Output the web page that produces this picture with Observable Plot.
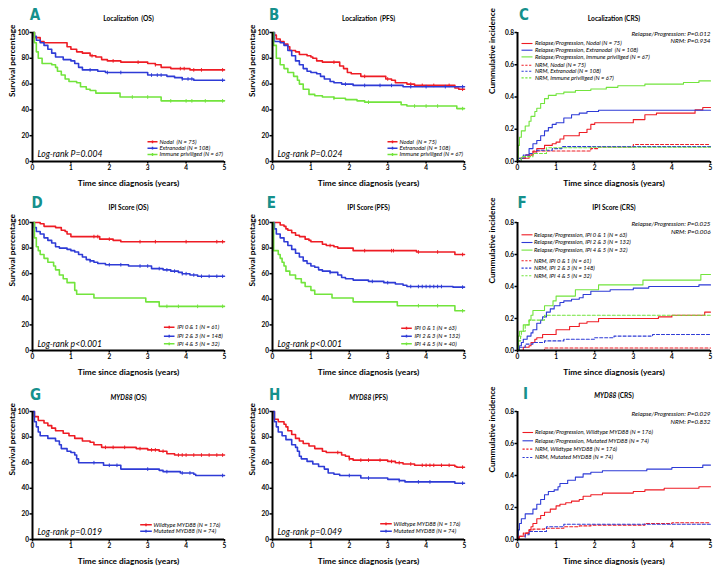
<!DOCTYPE html>
<html><head><meta charset="utf-8">
<script src="https://cdn.jsdelivr.net/npm/d3@7"></script>
<script src="https://cdn.jsdelivr.net/npm/@observablehq/plot@0.6"></script>
<style>
body{margin:0;background:#fff;}
#wrap{position:relative;width:721px;height:571px;overflow:hidden;background:#fff;}
.panel{position:absolute;}
.panel svg{overflow:visible;}
</style></head><body><div id="wrap"></div>
<script>
// ---------- tick values & labels ----------
const xTicks = [0, 1, 2, 3, 4, 5];
const xTickLabels = ["0", "1", "2", "3", "4", "5"];
const yTicksKM = [0, 20, 40, 60, 80, 100];
const yTickLabelsKM = ["0", "20", "40", "60", "80", "100"];
const yTicksCRS = [0, 0.2, 0.4, 0.6, 0.8];
const yTickLabelsCRS = ["0.0", "0.2", "0.4", "0.6", "0.8"];

// ---------- A: Localization (OS) [years, %] ----------
const osLocNodal = [[0,100],[0.05,96],[0.2,93],[0.3,92],[0.9,89],[1.0,87],[1.15,85],[1.3,84],[1.5,82],[1.65,81],[1.8,79],[1.95,78],[2.3,77],[3.0,76],[3.2,75],[3.35,73],[3.6,72],[4.1,71]];
const osLocExtra = [[0,100],[0.05,97],[0.1,94],[0.2,92],[0.3,90],[0.4,87],[0.5,84],[0.6,81],[0.8,79],[1.0,78],[1.1,76],[1.2,73],[1.3,71],[1.7,70],[1.9,69],[3.0,67],[3.5,66],[3.7,65],[3.9,64],[4.2,63]];
const osLocImmune = [[0,100],[0.05,92],[0.1,85],[0.15,80],[0.25,76],[0.5,75],[0.6,73],[0.65,70],[0.75,67],[0.85,64],[0.95,62],[1.15,61],[1.25,58],[1.4,56],[1.5,55],[1.65,53],[2.28,50],[3.35,47]];
const cenOsLocNodal = [1.55, 2.1, 2.75, 3.2, 3.85, 3.95, 4.2, 4.4, 4.95];
const cenOsLocExtra = [1.5, 1.95, 2.3, 3.1, 3.25, 3.35, 3.9, 4.05, 4.15, 4.95];
const cenOsLocImmune = [2.6, 3.0, 3.6, 4.0, 4.15, 4.5, 4.95];
// ---------- B: Localization (PFS) ----------
const pfsLocNodal = [[0,100],[0.05,98],[0.1,95],[0.2,93],[0.3,91],[0.4,89],[0.45,86],[0.6,85],[0.7,83],[0.9,82],[1.0,81],[1.05,80],[1.15,78],[1.3,77],[1.75,74],[1.85,72],[1.95,69],[2.05,68],[2.3,66],[2.95,64],[3.1,63],[3.2,61],[3.5,60],[3.7,59],[4.75,57],[4.85,56]];
const pfsLocExtra = [[0,100],[0.05,93],[0.2,92],[0.3,90],[0.4,86],[0.5,82],[0.6,78],[0.7,75],[0.8,72],[0.9,70],[1.0,69],[1.15,68],[1.25,66],[1.35,64],[1.5,62],[1.6,61],[1.8,60],[2.1,59],[3.4,58]];
const pfsLocImmune = [[0,100],[0.03,90],[0.1,80],[0.2,75],[0.3,72],[0.4,69],[0.55,66],[0.65,63],[0.7,60],[0.8,56],[0.95,52],[1.1,51],[1.3,50],[1.6,49],[1.9,48],[2.2,47],[2.4,46],[3.35,44],[3.5,43],[4.8,41]];
const cenPfsLocNodal = [1.6, 2.4, 3.0, 3.6, 3.9, 4.2, 4.6, 4.95];
const cenPfsLocExtra = [1.9, 2.4, 2.8, 3.1, 3.6, 4.0, 4.5, 4.95];
const cenPfsLocImmune = [1.6, 2.5, 3.7, 4.0, 4.3, 4.95];
// ---------- C: Localization (CRS) [years, fraction] ----------
const crsLocRelNodal = [[0,0],[0.1,0.02],[0.3,0.04],[0.4,0.06],[0.5,0.08],[0.7,0.10],[0.9,0.11],[1.0,0.12],[1.1,0.14],[1.2,0.16],[1.6,0.18],[1.8,0.20],[1.9,0.23],[2.0,0.24],[3.0,0.26],[3.3,0.29],[3.6,0.30],[4.6,0.32],[4.8,0.335]];
const crsLocRelExtra = [[0,0],[0.1,0.02],[0.2,0.04],[0.3,0.08],[0.4,0.11],[0.5,0.13],[0.6,0.16],[0.7,0.19],[0.8,0.21],[0.9,0.23],[1.0,0.24],[1.2,0.27],[1.4,0.29],[1.6,0.30],[1.8,0.31],[2.1,0.318]];
const crsLocRelImmune = [[0,0],[0.02,0.10],[0.05,0.15],[0.1,0.19],[0.2,0.22],[0.3,0.25],[0.35,0.28],[0.45,0.31],[0.5,0.33],[0.6,0.36],[0.7,0.39],[0.8,0.41],[1.0,0.42],[1.2,0.43],[1.5,0.44],[1.9,0.45],[2.3,0.46],[2.6,0.47],[3.3,0.48],[4.3,0.49],[4.7,0.50]];
const crsLocNrmNodal = [[0,0],[0.05,0.02],[0.2,0.04],[0.4,0.065],[1.9,0.08],[2.1,0.09],[3.0,0.105]];
const crsLocNrmExtra = [[0,0],[0.05,0.02],[0.15,0.04],[0.3,0.05],[0.5,0.07],[0.9,0.08],[1.15,0.092]];
const crsLocNrmImmune = [[0,0],[0.1,0.03],[0.4,0.05],[0.75,0.085],[1.9,0.088]];
// ---------- D: IPI (OS) ----------
const osIpi01 = [[0,100],[0.2,99],[0.3,97],[0.6,96],[0.75,94],[0.85,93],[0.9,91],[1.0,89],[1.75,87],[2.1,86],[2.3,85]];
const osIpi23 = [[0,100],[0.05,96],[0.1,93],[0.2,91],[0.3,88],[0.4,86],[0.5,84],[0.6,81],[0.7,80],[0.9,79],[1.0,78],[1.1,77],[1.2,75],[1.3,73],[1.4,71],[1.5,70],[1.6,69],[1.7,68],[1.9,67],[2.5,66],[3.1,64],[3.4,63],[3.6,62],[3.8,61],[3.9,60],[4.1,59],[4.3,58]];
const osIpi45 = [[0,100],[0.05,88],[0.1,81],[0.15,78],[0.2,75],[0.3,72],[0.4,69],[0.55,66],[0.6,63],[0.7,59],[0.8,56],[0.9,53],[1.1,47],[1.15,44],[1.6,41],[2.95,38],[3.3,34.5]];
const cenOsIpi01 = [1.6, 1.7, 2.0, 2.8, 3.2, 4.0, 4.8, 4.95];
const cenOsIpi23 = [1.5, 2.0, 2.3, 2.8, 3.0, 3.3, 3.5, 3.7, 3.9, 4.0, 4.2, 4.4, 4.6, 4.8, 4.95];
const cenOsIpi45 = [3.5, 3.8, 4.3, 4.95];
// ---------- E: IPI (PFS) ----------
const pfsIpi01 = [[0,100],[0.2,98],[0.3,97],[0.35,95],[0.4,94],[0.5,92],[0.6,90],[0.7,89],[0.85,87],[0.95,86],[1.0,85],[1.3,83],[1.4,82],[1.6,81],[1.7,80],[2.1,78],[3.75,77],[4.75,75]];
const pfsIpi23 = [[0,100],[0.05,95],[0.1,91],[0.2,88],[0.3,85],[0.4,82],[0.5,79],[0.6,76],[0.7,73],[0.8,70],[0.9,68],[1.0,66],[1.1,65],[1.2,63],[1.3,62],[1.5,61],[1.7,59],[1.8,57],[1.9,56],[2.1,55],[2.5,54],[2.9,53],[3.2,52],[3.4,51],[3.5,50],[4.7,49.5]];
const pfsIpi45 = [[0,100],[0.03,78],[0.15,75],[0.2,72],[0.25,69],[0.3,66],[0.35,62],[0.45,59],[0.6,56],[0.75,53],[0.85,50],[1.0,47],[1.1,44],[1.55,41],[2.1,38],[3.25,35],[4.75,31]];
const cenPfsIpi01 = [1.5, 2.4, 3.1, 3.15, 3.8, 4.3, 4.95];
const cenPfsIpi23 = [1.5, 2.6, 3.0, 3.6, 3.8, 3.9, 4.0, 4.1, 4.2, 4.3, 4.4, 4.95];
const cenPfsIpi45 = [3.8, 4.3, 4.95];
// ---------- F: IPI (CRS) ----------
const crsIpiRel01 = [[0,0],[0.15,0.02],[0.3,0.03],[0.35,0.05],[0.45,0.07],[0.5,0.08],[0.65,0.10],[1.0,0.13],[1.35,0.15],[1.6,0.17],[1.8,0.18],[2.1,0.20],[3.65,0.21],[4.0,0.22],[4.85,0.24]];
const crsIpiRel23 = [[0,0],[0.05,0.03],[0.1,0.05],[0.15,0.07],[0.25,0.09],[0.35,0.11],[0.4,0.13],[0.5,0.17],[0.6,0.19],[0.65,0.21],[0.75,0.24],[0.85,0.26],[0.95,0.28],[1.1,0.30],[1.2,0.31],[1.4,0.32],[1.6,0.33],[1.7,0.35],[1.9,0.37],[2.4,0.38],[3.0,0.39],[3.4,0.40],[4.7,0.41]];
const crsIpiRel45 = [[0,0],[0.02,0.09],[0.05,0.12],[0.15,0.16],[0.3,0.19],[0.35,0.22],[0.4,0.25],[0.7,0.28],[0.92,0.31],[1.0,0.34],[1.5,0.38],[2.1,0.41],[3.25,0.44],[4.75,0.475]];
const crsIpiNrm01 = [[0,0],[0.7,0.016]];
const crsIpiNrm23 = [[0,0],[0.05,0.02],[0.2,0.04],[0.4,0.05],[0.7,0.06],[1.2,0.07],[2.0,0.08],[2.5,0.09],[3.5,0.10]];
const crsIpiNrm45 = [[0,0],[0.03,0.06],[0.08,0.09],[0.1,0.12],[0.2,0.16],[0.3,0.19],[0.7,0.22]];
// ---------- G: MYD88 (OS) ----------
const osMydWt = [[0,100],[0.05,96],[0.15,93],[0.3,91],[0.4,89],[0.5,87],[0.6,85],[0.8,83],[0.95,81],[1.1,79],[1.3,77],[1.5,76],[1.6,74],[1.8,72],[2.7,71],[3.0,70],[3.3,69],[3.5,67],[3.7,66]];
const osMydMut = [[0,100],[0.05,92],[0.1,88],[0.15,84],[0.2,81],[0.4,79],[0.6,77],[0.7,74],[0.75,71],[0.9,69],[1.0,68],[1.1,66],[1.15,63],[1.2,60],[1.85,58],[2.3,55],[3.3,54],[3.4,53],[3.85,52],[4.2,51],[4.25,50]];
const cenOsMydWt = [1.9, 2.1, 2.4, 2.8, 3.1, 3.2, 3.4, 3.8, 3.9, 4.0, 4.2, 4.4, 4.6, 4.8, 4.95];
const cenOsMydMut = [1.6, 2.0, 2.2, 3.0, 3.5, 3.9, 4.1, 4.95];
// ---------- H: MYD88 (PFS) ----------
const pfsMydWt = [[0,100],[0.05,94],[0.15,92],[0.3,90],[0.35,88],[0.4,85],[0.5,82],[0.6,79],[0.7,77],[0.8,75],[0.95,73],[1.1,71],[1.3,69],[1.4,68],[1.8,66],[1.9,65],[2.0,63],[2.1,62],[3.0,61],[3.2,60],[3.4,59],[3.7,58],[4.75,57],[4.8,56.5]];
const pfsMydMut = [[0,100],[0.05,92],[0.1,88],[0.15,84],[0.25,81],[0.35,78],[0.5,74],[0.6,72],[0.65,69],[0.7,65],[0.75,63],[0.9,61],[1.05,59],[1.2,57],[1.35,55],[1.45,52],[1.6,51],[1.75,50],[2.3,48],[3.0,47],[3.3,46],[3.45,45],[4.75,44]];
const cenPfsMydWt = [1.7, 2.0, 2.3, 2.5, 2.8, 3.1, 3.3, 3.6, 3.9, 4.0, 4.1, 4.2, 4.4, 4.6, 4.95];
const cenPfsMydMut = [2.0, 2.5, 3.3, 3.8, 4.1, 4.95];
// ---------- I: MYD88 (CRS) ----------
const crsMydRelWt = [[0,0],[0.05,0.02],[0.2,0.04],[0.3,0.06],[0.35,0.08],[0.4,0.10],[0.5,0.13],[0.6,0.15],[0.7,0.17],[0.85,0.19],[1.0,0.21],[1.1,0.22],[1.25,0.23],[1.4,0.24],[1.6,0.25],[1.7,0.27],[1.9,0.28],[2.2,0.29],[3.0,0.30],[3.3,0.31],[3.8,0.32],[4.7,0.33]];
const crsMydRelMut = [[0,0],[0.02,0.06],[0.05,0.10],[0.1,0.13],[0.2,0.16],[0.4,0.19],[0.5,0.22],[0.6,0.25],[0.7,0.28],[0.8,0.30],[0.95,0.31],[1.05,0.33],[1.1,0.35],[1.3,0.37],[1.5,0.39],[1.7,0.41],[1.9,0.42],[2.2,0.43],[3.35,0.44],[4.0,0.45],[4.8,0.465]];
const crsMydNrmWt = [[0,0],[0.02,0.02],[0.15,0.04],[0.3,0.06],[0.4,0.065],[0.7,0.07],[1.2,0.08],[1.6,0.085],[1.9,0.09],[3.3,0.10],[4.0,0.105]];
const crsMydNrmMut = [[0,0],[0.2,0.03],[0.3,0.05],[0.75,0.08],[1.2,0.095]];

// ---------- legend / annotation texts ----------
const legLoc = ["Nodal  (N = 75)", "Extranodal (N = 108)", "Immune priviliged (N = 67)"];
const legLocCRS = ["Relapse/Progression, Nodal (N = 75)", "Relapse/Progression, Extranodal  (N = 108)", "Relapse/Progression, Immune priviliged (N = 67)", "NRM, Nodal (N = 75)", "NRM, Extranodal (N = 108)", "NRM, Immune priviliged (N = 67)"];
const legIpiOS = ["IPI 0 & 1 (N = 61)", "IPI 2 & 3 (N = 148)", "IPI 4 & 5 (N = 32)"];
const legIpiPFS = ["IPI 0 & 1 (N = 63)", "IPI 2 & 3 (N = 132)", "IPI 4 & 5 (N = 40)"];
const legIpiCRS = ["Relapse/Progression, IPI 0 & 1 (N = 63)", "Relapse/Progression, IPI 2 & 3 (N = 132)", "Relapse/Progression, IPI 4 & 5 (N = 32)", "NRM, IPI 0 & 1 (N = 61)", "NRM, IPI 2 & 3 (N = 148)", "NRM, IPI 4 & 5 (N = 32)"];
const legMyd = ["Wildtype MYD88 (N = 176)", "Mutated MYD88 (N = 74)"];
const legMydCRS = ["Relapse/Progression, Wildtype MYD88 (N = 176)", "Relapse/Progression, Mutated MYD88 (N = 74)", "NRM, Wildtype MYD88 (N = 176)", "NRM, Mutated MYD88 (N = 74)"];

// ---------- styles ----------
const RED = "#ee1c24", BLUE = "#2e3bd6", GREEN = "#72e43c", TEAL = "#15908c";
const FONT = "Lato, 'Open Sans', sans-serif";
const LETTER_FONT = "'DejaVu Sans Condensed', 'Liberation Sans Narrow', sans-serif";

const panels = [
  {letter:"A", title:"Localization  (OS)", kind:"km", col:0, row:0, ldx:-2.7, ldy:-12.3, tdy:-14,
   series:[{data:osLocNodal,cens:cenOsLocNodal,color:RED},{data:osLocExtra,cens:cenOsLocExtra,color:BLUE},{data:osLocImmune,cens:cenOsLocImmune,color:GREEN}],
   legend:legLoc, leg:{anchor:"bottom-right", lineDx:-72, half:5, textDx:-65, dys:[-19.7,-13.3,-7]}, note:"Log-rank P=0.004", noteDy:-7},
  {letter:"B", title:"Localization  (PFS)", kind:"km", col:1, row:0, ldx:-3.4, ldy:-13, tdy:-14,
   series:[{data:pfsLocNodal,cens:cenPfsLocNodal,color:RED},{data:pfsLocExtra,cens:cenPfsLocExtra,color:BLUE},{data:pfsLocImmune,cens:cenPfsLocImmune,color:GREEN}],
   legend:legLoc, leg:{anchor:"bottom-right", lineDx:-72, half:5, textDx:-65, dys:[-19.7,-13.3,-7]}, note:"Log-rank P=0.024", noteDy:-7},
  {letter:"C", title:"Localization (CRS)", kind:"crs", col:2, row:0, ldx:1.6, ldy:-13, tdy:-14,
   series:[{data:crsLocRelNodal,color:RED},{data:crsLocRelExtra,color:BLUE},{data:crsLocRelImmune,color:GREEN},
           {data:crsLocNrmNodal,color:RED,dash:true},{data:crsLocNrmExtra,color:BLUE,dash:true},{data:crsLocNrmImmune,color:GREEN,dash:true}],
   legend:legLocCRS, leg:{anchor:"top-left", lineDx:9.5, half:5.5, textDx:17.5, dys:[11,17.7,24.4,32.7,38.7,45.4]},
   pvals:["Relapse/Progression: P=0.012","NRM: P=0.934"], pdys:[1,8.4]},
  {letter:"D", title:"IPI Score (OS)", kind:"km", col:0, row:1, ldx:-1, ldy:-15, tdy:-15,
   series:[{data:osIpi01,cens:cenOsIpi01,color:RED},{data:osIpi23,cens:cenOsIpi23,color:BLUE},{data:osIpi45,cens:cenOsIpi45,color:GREEN}],
   legend:legIpiOS, leg:{anchor:"bottom-right", lineDx:-55.3, half:5.3, textDx:-47.3, dys:[-23.3,-14.3,-6.7]}, note:"Log-rank p<0.001", noteDy:-6.7},
  {letter:"E", title:"IPI Score (PFS)", kind:"km", col:1, row:1, ldx:-5.7, ldy:-15, tdy:-15,
   series:[{data:pfsIpi01,cens:cenPfsIpi01,color:RED},{data:pfsIpi23,cens:cenPfsIpi23,color:BLUE},{data:pfsIpi45,cens:cenPfsIpi45,color:GREEN}],
   legend:legIpiPFS, leg:{anchor:"bottom-right", lineDx:-58, half:5.3, textDx:-50, dys:[-22.3,-14.3,-6.7]}, note:"Log-rank p<0.001", noteDy:-6.7},
  {letter:"F", title:"IPI Score (CRS)", kind:"crs", col:2, row:1, ldx:0, ldy:-15, tdy:-15,
   series:[{data:crsIpiRel01,color:RED},{data:crsIpiRel23,color:BLUE},{data:crsIpiRel45,color:GREEN},
           {data:crsIpiNrm01,color:RED,dash:true},{data:crsIpiNrm23,color:BLUE,dash:true},{data:crsIpiNrm45,color:GREEN,dash:true}],
   legend:legIpiCRS, leg:{anchor:"top-left", lineDx:9.5, half:5.5, textDx:16.6, dys:[12.3,20,27.6,38.3,45.6,53.3]},
   pvals:["Relapse/Progression: P=0.025","NRM: P=0.006"], pdys:[1.7,9]},
  {letter:"G", title:"MYD88 (OS)", kind:"km", col:0, row:2, ldx:-2.4, ldy:-11.7, tdy:-14,
   series:[{data:osMydWt,cens:cenOsMydWt,color:RED},{data:osMydMut,cens:cenOsMydMut,color:BLUE}],
   legend:legMyd, leg:{anchor:"bottom-right", lineDx:-78.5, half:5.8, textDx:-71, dys:[-14.7,-8.3]}, note:"Log-rank p=0.019", noteDy:-7.3},
  {letter:"H", title:"MYD88 (PFS)", kind:"km", col:1, row:2, ldx:-3.4, ldy:-11.7, tdy:-14,
   series:[{data:pfsMydWt,cens:cenPfsMydWt,color:RED},{data:pfsMydMut,cens:cenPfsMydMut,color:BLUE}],
   legend:legMyd, leg:{anchor:"bottom-right", lineDx:-78.5, half:5.8, textDx:-71, dys:[-15.7,-8.3]}, note:"Log-rank p=0.049", noteDy:-7.3},
  {letter:"I", title:"MYD88 (CRS)", kind:"crs", col:2, row:2, ldx:5.6, ldy:-12.4, tdy:-15.7,
   series:[{data:crsMydRelWt,color:RED},{data:crsMydRelMut,color:BLUE},
           {data:crsMydNrmWt,color:RED,dash:true},{data:crsMydNrmMut,color:BLUE,dash:true}],
   legend:legMydCRS, leg:{anchor:"top-left", lineDx:10.3, half:5.3, textDx:17.6, dys:[21,29.3,37.6,46]},
   pvals:["Relapse/Progression: P=0.029","NRM: P=0.832"], pdys:[2.7,10]}
];

const colLeft = [0, 240, 480], colWidth = [240, 240, 241];
const rowTop = [0, 190, 379], rowMB = [29, 30, 30];

function toRows(pairs) {
  const r = pairs.map(([t, v]) => ({t, v}));
  const last = pairs[pairs.length - 1];
  if (last[0] < 5) r.push({t: 5, v: last[1]});
  return r;
}
// value of a step curve at time t (for censor marks)
function stepAt(pairs, t) {
  let v = pairs[0][1];
  for (const [tt, vv] of pairs) { if (tt <= t) v = vv; else break; }
  return v;
}
function legendSymbol(half, tick) {
  return {draw(ctx) {
    ctx.moveTo(-half, 0); ctx.lineTo(half, 0);
    if (tick) { ctx.moveTo(0, -1.4); ctx.lineTo(0, 1.4); }
  }};
}
const censorSymbol = {draw(ctx) { ctx.moveTo(0, -1.8); ctx.lineTo(0, 1.8); }};

function makePanel(p) {
  const crs = p.kind === "crs";
  const W = colWidth[p.col], H = 190;
  const ml = crs ? 37 : 32, mr = W - (crs ? 230 : 224), mt = 32, mb = rowMB[p.row];
  const yTicks = crs ? yTicksCRS : yTicksKM, yLabels = crs ? yTickLabelsCRS : yTickLabelsKM;
  const marks = [];
  p.series.forEach(s => {
    marks.push(Plot.line(toRows(s.data), {x: "t", y: "v", curve: "step-after", stroke: s.color,
      strokeWidth: crs ? 1.1 : 1.6, strokeDasharray: s.dash ? "3,2" : null}));
    if (s.cens) {
      marks.push(Plot.dot(s.cens.map(t => ({t, v: stepAt(s.data, t)})), {x: "t", y: "v", symbol: censorSymbol,
        fill: "none", stroke: s.color, strokeWidth: 1}));
    }
  });
  marks.push(Plot.ruleX([xTicks[0]], {stroke: "#000", strokeWidth: 2}));
  marks.push(Plot.ruleY([yTicks[0]], {stroke: "#000", strokeWidth: 2}));
  marks.push(Plot.axisX({ticks: xTicks, tickFormat: d => xTickLabels[xTicks.indexOf(d)], tickSize: 2.5, tickPadding: 1.5,
    fontSize: 6.5, fontWeight: "bold", strokeWidth: 1.5, label: null}));
  marks.push(Plot.axisY({ticks: yTicks, tickFormat: d => yLabels[yTicks.indexOf(d)], tickSize: 2.5, tickPadding: 1,
    fontSize: 6.5, fontWeight: "bold", strokeWidth: 1.5, label: null}));
  // panel letter
  marks.push(Plot.text([p.letter], {text: d => d, frameAnchor: "top-left", textAnchor: "start", lineAnchor: "bottom",
    dx: p.ldx, dy: p.ldy, fill: TEAL, fontSize: 15, fontWeight: "bold", fontFamily: LETTER_FONT}));
  // title
  marks.push(Plot.text([p.title], {text: d => d, frameAnchor: "top", lineAnchor: "middle", dy: p.tdy,
    fontSize: 6.6, fontWeight: "bold"}));
  // axis titles
  marks.push(Plot.text([crs ? "Cummulative incidence" : "Survival percentage"], {text: d => d, frameAnchor: "left",
    rotate: -90, lineAnchor: "middle", dx: crs ? -24.7 : -20, dy: crs ? -3 : 0, fontSize: 8.3, fontWeight: "bold"}));
  marks.push(Plot.text(["Time since diagnosis (years)"], {text: d => d, frameAnchor: "bottom", lineAnchor: "middle",
    dy: 21.5, fontSize: 8.3, fontWeight: "bold"}));
  // legend
  const L = p.leg;
  p.legend.forEach((lab, i) => {
    const s = p.series[i];
    marks.push(Plot.dot([lab], {frameAnchor: L.anchor, dx: L.lineDx, dy: L.dys[i], symbol: legendSymbol(L.half, !crs),
      fill: "none", stroke: s.color, strokeWidth: crs ? 1.1 : 1.4, strokeDasharray: s.dash ? "2.2,1.6" : null}));
    marks.push(Plot.text([lab], {text: d => d, frameAnchor: L.anchor, textAnchor: "start", lineAnchor: "middle",
      dx: L.textDx, dy: L.dys[i], fontSize: crs ? 5.8 : 5.8, fontStyle: "italic"}));
  });
  if (p.note) {
    marks.push(Plot.text([p.note], {text: d => d, frameAnchor: "bottom-left", textAnchor: "start", lineAnchor: "middle",
      dx: 5, dy: p.noteDy, fontSize: 8.6, fontStyle: "italic"}));
  }
  if (p.pvals) {
    p.pvals.forEach((t, i) => marks.push(Plot.text([t], {text: d => d, frameAnchor: "top-right", textAnchor: "end",
      lineAnchor: "middle", dy: p.pdys[i], fontSize: 6.3, fontStyle: "italic"})));
  }
  const svg = Plot.plot({
    width: W, height: H, marginLeft: ml, marginRight: mr, marginTop: mt, marginBottom: mb,
    x: {domain: [xTicks[0], xTicks[xTicks.length - 1]]},
    y: {domain: [yTicks[0], yTicks[yTicks.length - 1]]},
    style: {fontFamily: FONT, color: "#000", background: "transparent"},
    marks
  });
  // italicise gene name MYD88 in titles
  svg.querySelectorAll("text").forEach(t => {
    if (t.textContent === p.title && p.title.startsWith("MYD88")) {
      const rest = p.title.slice(5);
      t.textContent = "";
      const a = document.createElementNS("http://www.w3.org/2000/svg", "tspan");
      a.setAttribute("font-style", "italic"); a.textContent = "MYD88";
      t.appendChild(a); t.appendChild(document.createTextNode(rest));
    }
  });
  const div = document.createElement("div");
  div.className = "panel";
  div.style.left = colLeft[p.col] + "px";
  div.style.top = rowTop[p.row] + "px";
  div.appendChild(svg);
  document.getElementById("wrap").appendChild(div);
}
panels.forEach(makePanel);
</script>
</body></html>
